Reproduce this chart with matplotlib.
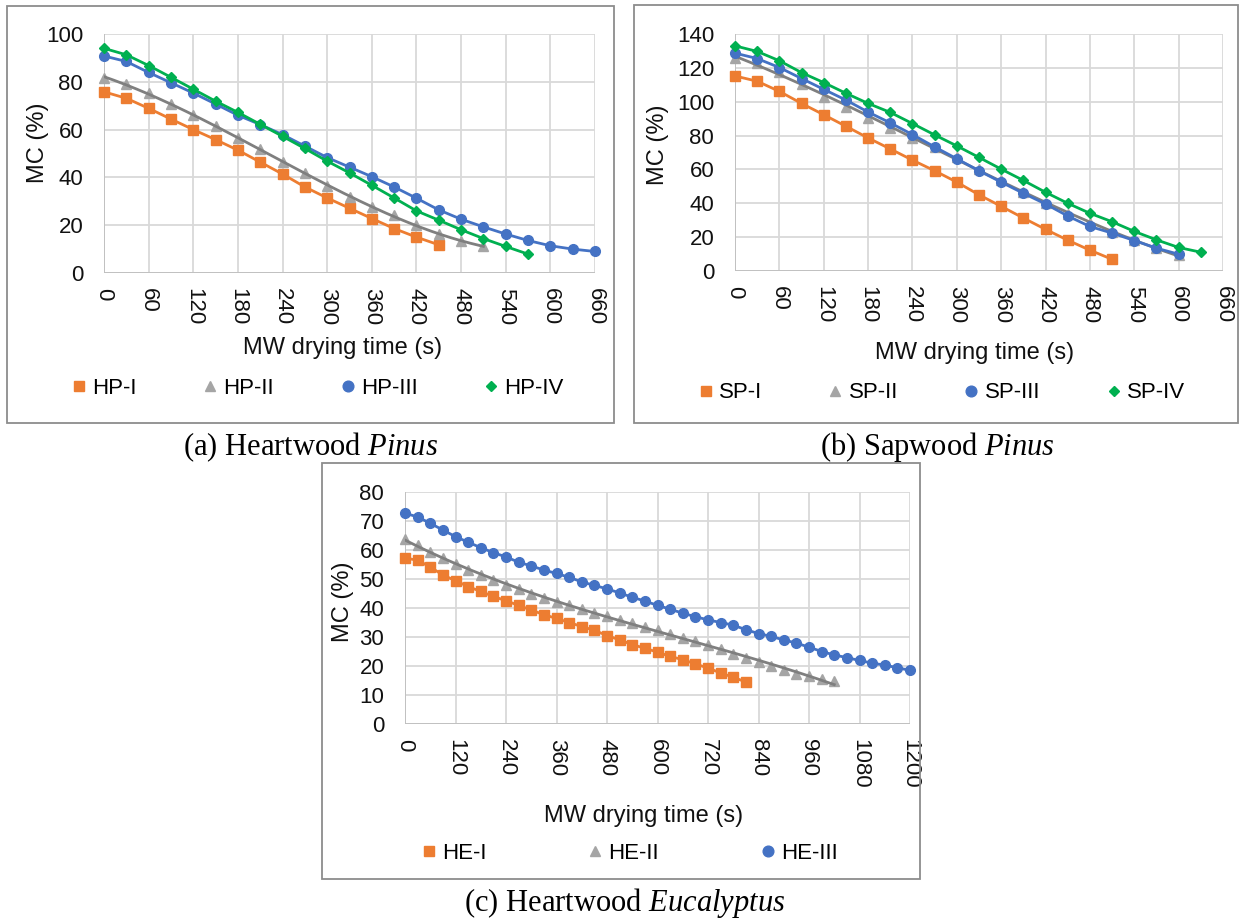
import numpy as np
import matplotlib
matplotlib.use("Agg")
import matplotlib.pyplot as plt
from matplotlib.lines import Line2D
from matplotlib.patches import Rectangle

W, H = 1242, 921

# (a) Heartwood Pinus, readings every 30 s
hp_step = 30
hp_i = [75.8, 73.1, 68.9, 64.4, 60.0, 55.8, 51.4, 46.4, 41.4, 36.0, 31.4,
        27.1, 22.8, 18.6, 15.0, 11.8]
hp_ii = [81.5, 79.2, 75.3, 70.7, 66.0, 61.4, 56.5, 51.7, 46.5, 41.7, 36.5,
         31.9, 27.8, 24.2, 20.1, 16.4, 13.2, 11.1]
hp_iii = [90.8, 88.5, 83.9, 79.6, 75.3, 70.7, 66.0, 62.1, 57.9, 53.1, 48.3,
          44.3, 40.3, 36.0, 31.3, 26.4, 22.5, 19.3, 16.3, 13.6, 11.4, 10.0, 9.0]
hp_iv = [94.0, 91.3, 86.8, 81.9, 76.9, 71.9, 67.2, 62.2, 57.2, 52.1, 46.8,
         41.9, 36.7, 31.4, 26.0, 22.1, 18.1, 14.4, 11.1, 7.9]

# (b) Sapwood Pinus, readings every 30 s
sp_step = 30
sp_i = [115.2, 112.1, 106.1, 99.0, 92.3, 85.5, 78.6, 72.1, 65.5, 59.2, 52.5,
        45.0, 38.2, 31.3, 24.6, 18.2, 12.3, 6.9]
sp_ii = [125.7, 122.8, 117.8, 110.3, 103.0, 97.0, 90.5, 84.6, 78.6, 73.3,
         67.3, 60.4, 53.5, 46.9, 40.0, 33.7, 28.1, 23.2, 18.2, 13.5, 9.3]
sp_iii = [128.7, 125.5, 120.2, 113.7, 107.3, 101.0, 93.9, 87.5, 80.6, 73.3,
          66.3, 59.2, 52.5, 45.9, 39.6, 32.5, 26.3, 22.4, 18.0, 13.5, 9.9]
sp_iv = [133.0, 129.7, 124.2, 117.2, 111.3, 105.0, 99.0, 93.7, 87.1, 80.4,
         73.9, 67.1, 60.2, 53.5, 46.5, 40.0, 34.1, 29.1, 23.4, 18.4, 13.9, 11.1]

# (c) Heartwood Eucalyptus, readings every 30 s
he_step = 30
he_i = [57.2, 56.5, 54.1, 51.4, 49.4, 47.4, 45.7, 44.0, 42.5, 40.9, 39.3,
        37.7, 36.4, 35.0, 33.6, 32.3, 30.5, 29.0, 27.4, 26.1, 24.8, 23.3,
        22.2, 20.7, 19.3, 17.6, 16.1, 14.5]
he_ii = [63.7, 61.6, 59.4, 57.2, 55.2, 53.2, 51.4, 49.7, 48.0, 46.5, 45.0,
         43.6, 42.2, 40.9, 39.6, 38.3, 37.2, 36.0, 34.8, 33.6, 32.4, 31.1,
         29.8, 28.6, 27.3, 25.8, 24.3, 22.8, 21.3, 19.9, 18.6, 17.4, 16.4,
         15.5, 14.8]
he_iii = [72.7, 71.4, 69.2, 66.9, 64.6, 62.7, 60.8, 59.1, 57.6, 55.8, 54.5,
          53.1, 51.9, 50.6, 49.0, 47.8, 46.6, 45.2, 43.7, 42.4, 40.9, 39.6,
          38.2, 37.0, 35.9, 35.0, 34.1, 32.5, 31.2, 30.2, 29.0, 27.9, 26.5,
          25.0, 23.8, 22.9, 21.9, 21.0, 20.3, 19.4, 18.5]

ORANGE = "#ED7D31"
GRAY_M = "#A5A5A5"
GRAY_L = "#7F7F7F"
BLUE = "#4472C4"
GREEN = "#00B050"

plt.rcParams["font.family"] = ["Liberation Sans", "DejaVu Sans"]
plt.rcParams["mathtext.fontset"] = "custom"
plt.rcParams["mathtext.rm"] = "Liberation Serif"
plt.rcParams["mathtext.it"] = "Liberation Serif:italic"

STYLES = [("s", ORANGE, 6.6), ("^", GRAY_M, 6.6), ("o", BLUE, 7.0),
          ("D", GREEN, 4.8)]


def fx(px):
    return px / W


def fy(py):
    return 1 - py / H


def make_axes(fig, left, right, top, bottom):
    return fig.add_axes([fx(left), fy(bottom), (right - left) / W,
                         (bottom - top) / H])


def box(fig, left, top, right, bottom):
    fig.patches.append(Rectangle((fx(left), fy(bottom)), (right - left) / W,
                                 (bottom - top) / H, transform=fig.transFigure,
                                 fill=False, edgecolor="#8c8c8c", lw=1.3))


def draw_panel(ax, step, series, xmax, xstep, ymax, ystep):
    for i, vals in enumerate(series):
        x = np.arange(len(vals)) * step
        m, c, ms = STYLES[i]
        if i == 1:
            # gray series: markers plus a polynomial trendline
            ax.plot(x, vals, linestyle="none", marker=m, color=c, ms=ms,
                    clip_on=False, zorder=3)
            coef = np.polyfit(x, vals, 3)
            xx = np.linspace(0, x[-1], 200)
            ax.plot(xx, np.polyval(coef, xx), color=GRAY_L, lw=2.0,
                    zorder=3)
        else:
            ax.plot(x, vals, marker=m, color=c, ms=ms, lw=2.0,
                    clip_on=False, zorder=3)
    ax.set_xlim(0, xmax)
    ax.set_ylim(0, ymax)
    ax.set_xticks(np.arange(0, xmax + 1, xstep))
    ax.set_yticks(np.arange(0, ymax + 1, ystep))
    ax.grid(True, color="#D9D9D9", lw=1.3, zorder=0)
    ax.set_axisbelow(True)
    for s in ax.spines.values():
        s.set_visible(False)
    ax.axhline(0, color="#BFBFBF", lw=1.3, zorder=1)
    ax.axvline(0, color="#BFBFBF", lw=1.3, zorder=1)
    ax.tick_params(axis="both", length=0, labelsize=16, colors="#111111")
    ax.tick_params(axis="y", pad=15)
    ax.tick_params(axis="x", pad=11)
    for lab in ax.get_xticklabels():
        lab.set_rotation(270)
        lab.set_va("top")
        lab.set_ha("center")


def legend(ax, labels, n, cx, cy, colspace):
    handles = [Line2D([], [], linestyle="none", marker=m, color=c, ms=ms * 1.1)
               for m, c, ms in STYLES[:n]]
    ax.legend(handles, labels, ncol=n, loc="center",
              bbox_to_anchor=(fx(cx), fy(cy)), bbox_transform=ax.figure.transFigure,
              frameon=False, fontsize=16, handlelength=0.6, handletextpad=0.3,
              columnspacing=colspace, borderpad=0, borderaxespad=0)


def labels(fig, xl, ylx, yly):
    fig.text(fx(xl[0]), fy(xl[1]), "MW drying time (s)", ha="center",
             va="center", fontsize=17, color="#111111")
    fig.text(fx(ylx), fy(yly), "MC (%)", ha="center", va="center",
             rotation=90, fontsize=17, color="#111111")


fig = plt.figure(figsize=(W / 100, H / 100), dpi=100)

# panel (a)
box(fig, 7, 6, 614, 423)
ax_a = make_axes(fig, 104, 595, 34, 273)
draw_panel(ax_a, hp_step, [hp_i, hp_ii, hp_iii, hp_iv], 660, 60, 100, 20)
labels(fig, (343, 348), 38, 143)
legend(ax_a, ["HP-I", "HP-II", "HP-III", "HP-IV"], 4, 318, 388, 3.0)
fig.text(fx(311), fy(447), r"(a) Heartwood $\it{Pinus}$", ha="center",
         va="center", fontsize=22, family="Liberation Serif")

# panel (b)
box(fig, 634, 5, 1238, 423)
ax_b = make_axes(fig, 735, 1223, 34, 271)
draw_panel(ax_b, sp_step, [sp_i, sp_ii, sp_iii, sp_iv], 660, 60, 140, 20)
labels(fig, (975, 353), 658, 145)
legend(ax_b, ["SP-I", "SP-II", "SP-III", "SP-IV"], 4, 942, 393, 3.0)
fig.text(fx(937), fy(447), r"(b) Sapwood $\it{Pinus}$", ha="center",
         va="center", fontsize=22, family="Liberation Serif")

# panel (c)
box(fig, 322, 463, 920, 879)
ax_c = make_axes(fig, 405, 910, 492, 724)
draw_panel(ax_c, he_step, [he_i, he_ii, he_iii], 1200, 120, 80, 10)
labels(fig, (644, 816), 343, 602)
legend(ax_c, ["HE-I", "HE-II", "HE-III"], 3, 630, 853, 4.6)
fig.text(fx(625), fy(903), r"(c) Heartwood $\it{Eucalyptus}$", ha="center",
         va="center", fontsize=22, family="Liberation Serif")

fig.savefig("out.png", dpi=100)
